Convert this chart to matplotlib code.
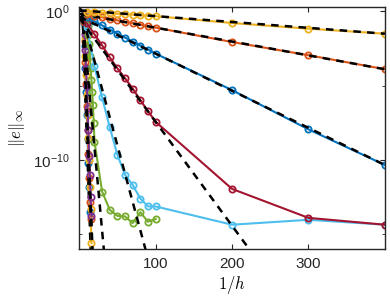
import matplotlib
matplotlib.use("Agg")
import matplotlib.pyplot as plt
import matplotlib.ticker as mticker
import numpy as np

# ---------------------------------------------------------------------------
# DATA  (log10 of the max error)
# ---------------------------------------------------------------------------
x_coarse = [10, 20, 30, 40, 50, 60, 70, 80, 90, 100, 200, 300, 400]

# slow ones, full range
x_s10 = x_coarse
y_s10 = [-0.02, -0.06, -0.10, -0.13, -0.16, -0.19, -0.22, -0.26, -0.29, -0.32, -0.78, -1.16, -1.50]
x_s9 = x_coarse
y_s9 = [-0.20, -0.30, -0.40, -0.50, -0.60, -0.70, -0.79, -0.90, -1.00, -1.09, -2.06, -2.95, -3.89]
x_s8 = x_coarse
y_s8 = [-0.40, -0.67, -0.94, -1.22, -1.49, -1.76, -2.03, -2.30, -2.57, -2.84, -5.30, -7.94, -10.34]
x_s7 = x_coarse
y_s7 = [-0.80, -1.54, -2.28, -3.09, -3.83, -4.50, -5.19, -5.97, -6.71, -7.43, -11.95, -13.90, -14.36]
x_s6 = x_coarse
y_s6 = [-1.05, -3.70, -5.79, -7.80, -9.66, -11.00, -11.68, -12.60, -13.13, -13.13, -14.36, -14.03, -14.36]
x_s5 = [10, 11, 12, 13, 14, 15, 16, 17, 18, 19, 20, 30, 40, 50, 60, 70, 80, 90, 100]
y_s5 = [-0.5, -1.0, -1.6, -2.2, -3.0, -3.8, -4.6, -5.4, -6.3, -7.5, -8.77, -12.13, -13.36, -13.76, -13.80, -14.25, -13.52, -14.16, -13.98]
x_s4 = [6, 7, 8, 9, 10, 11, 12, 13, 14, 15, 16]
y_s4 = [-0.5, -1.5, -2.6, -3.8, -5.0, -6.5, -8.0, -9.7, -11.0, -12.5, -13.8]
x_s3 = [6, 7, 8, 9, 10, 11, 12, 13, 14, 15, 16]
y_s3 = [-0.6, -1.8, -3.0, -4.3, -5.6, -7.0, -8.5, -10.0, -11.8, -13.3, -15.6]
x_s2 = [6, 7, 8, 9, 10, 11, 12, 13, 14, 15]
y_s2 = [-0.7, -2.0, -3.4, -4.9, -6.4, -8.0, -9.6, -11.2, -12.8, -14.0]
x_s1 = [6, 7, 8, 9, 10, 11, 12, 13, 14]
y_s1 = [-0.8, -2.3, -3.8, -5.4, -7.0, -8.6, -10.2, -11.8, -13.5]

series_x = [x_s1, x_s2, x_s3, x_s4, x_s5, x_s6, x_s7, x_s8, x_s9, x_s10]
series_y = [y_s1, y_s2, y_s3, y_s4, y_s5, y_s6, y_s7, y_s8, y_s9, y_s10]

# dashed reference lines: log10(e) = ref_a - ref_b * x
ref_a = [6.5, 6.2, 5.9, 5.67, 2.04, 0.47, -0.43, -0.34, -0.16, 0.08]
ref_b = [1.5, 1.4, 1.3, 1.24, 0.56, 0.19, 0.070, 0.025, 0.00933, 0.00395]

colors = ["#0072BD", "#D95319", "#EDB120", "#7E2F8E", "#77AC30",
          "#4DBEEE", "#A2142F", "#0072BD", "#D95319", "#EDB120"]

# ---------------------------------------------------------------------------
# PLOT
# ---------------------------------------------------------------------------
plt.rcParams['font.family'] = ['Liberation Sans', 'DejaVu Sans']
plt.rcParams['mathtext.fontset'] = 'cm'

fig = plt.figure(figsize=(3.9, 3.03), dpi=100)
ax = fig.add_axes([0.203, 0.178, 0.784, 0.799])

xr = np.linspace(0, 400, 1601)
for k in range(len(series_x)):
	ax.plot(series_x[k], 10.0 ** np.array(series_y[k]), "-o", color=colors[k],
		linewidth=1.5, markersize=4.5, markerfacecolor="none", markeredgewidth=1.3)
	ax.plot(xr, 10.0 ** (ref_a[k] - ref_b[k] * xr), "--", color="black", linewidth=1.8,
		dashes=(3, 2.5))

ax.set_yscale("log")
ax.set_xlim(0, 400)
ax.set_ylim(1e-16, 2)
ax.set_xticks([100, 200, 300])
ax.set_yticks([1e0, 1e-10])
ax.yaxis.set_major_formatter(mticker.FixedFormatter([r"$\mathregular{10^{0}}$", r"$\mathregular{10^{-10}}$"]))
ax.yaxis.set_minor_locator(mticker.FixedLocator([1e-5, 1e-15]))
ax.yaxis.set_minor_formatter(mticker.NullFormatter())
ax.tick_params(which="both", direction="in", top=True, right=True, labelsize=11, colors="#262626")
ax.tick_params(axis="y", pad=7)
ax.tick_params(axis="x", pad=6)
ax.tick_params(which="minor", length=2.5)
for sp in ax.spines.values():
	sp.set_color("#262626")
	sp.set_linewidth(1.0)
ax.set_xlabel(r"$1/h$", fontsize=12, labelpad=2)
ax.set_ylabel(r"$\|e\|_\infty$", fontsize=12, labelpad=4)

fig.savefig("out.png", dpi=100)
